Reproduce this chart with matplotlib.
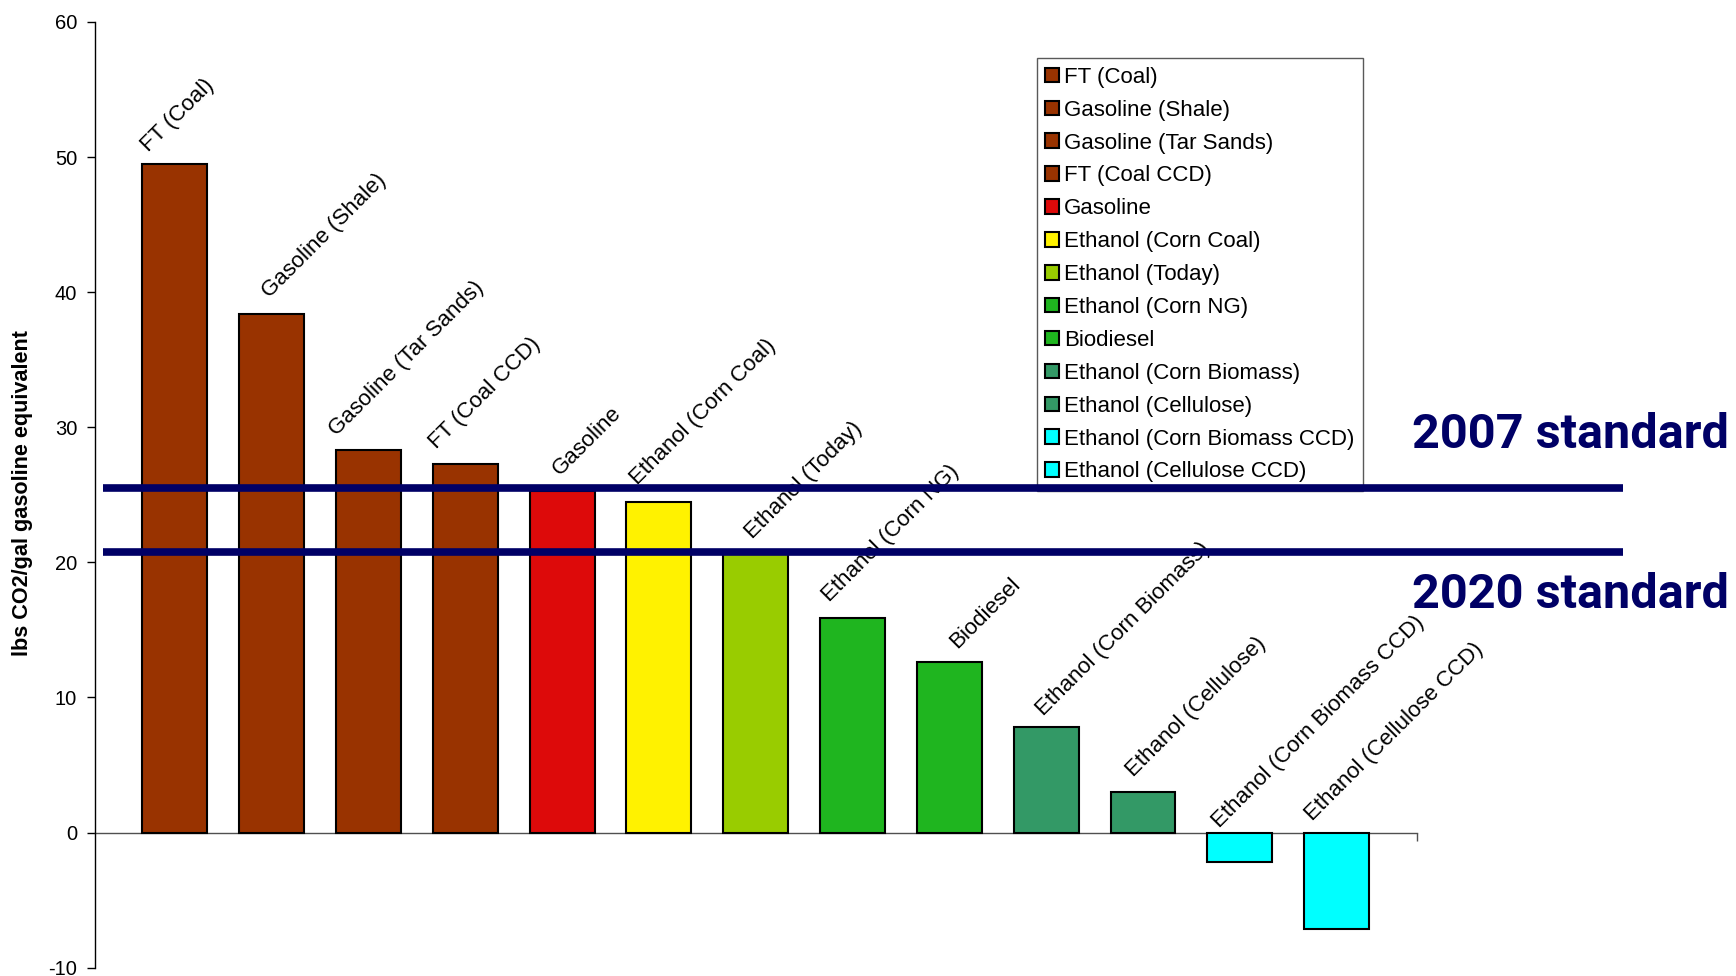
import matplotlib
matplotlib.use("Agg")
import matplotlib.pyplot as plt
from matplotlib.transforms import blended_transform_factory

plt.rcParams['font.family'] = ['Liberation Sans', 'DejaVu Sans']
plt.rcParams['axes.unicode_minus'] = False

# Fuel pathways and their life-cycle emissions (lbs CO2 per gallon gasoline equivalent)
fuels = ["FT (Coal)", "Gasoline (Shale)", "Gasoline (Tar Sands)", "FT (Coal CCD)",
         "Gasoline", "Ethanol (Corn Coal)", "Ethanol (Today)", "Ethanol (Corn NG)",
         "Biodiesel", "Ethanol (Corn Biomass)", "Ethanol (Cellulose)",
         "Ethanol (Corn Biomass CCD)", "Ethanol (Cellulose CCD)"]
emissions = [49.5, 38.4, 28.3, 27.3, 25.3, 24.5, 20.7, 15.9, 12.6, 7.8, 3.0, -2.2, -7.1]

colors = ["#993300", "#993300", "#993300", "#993300", "#DD0A0A", "#FFF200",
          "#99CC00", "#1FB51F", "#1FB51F", "#339966", "#339966", "#00FFFF", "#00FFFF"]

# Per-label nudges (pixels) from the bar centre / top to the label's baseline start
label_dx = [-26, -2, -32, -29, -2, -21, -3, -23, 8, -3, -10, -20, -24]
label_dy = [11, 15, 14, 14, 15, 16, 13, 15, 13, 11, 15, 4, 11]

# Fuel standards (lbs CO2/gal gasoline equivalent)
standard_names = ["2007 standard", "2020 standard"]
standard_values = [25.5, 20.8]

y_ticks = [-10, 0, 10, 20, 30, 40, 50, 60]

W, H = 1736, 976
fig = plt.figure(figsize=(W / 100, H / 100), dpi=100)
ax = fig.add_axes([94.5 / W, 1 - 967.7 / H, (1417 - 94.5) / W, (967.7 - 21.9) / H])

x = list(range(len(fuels)))
bars = ax.bar(x, emissions, width=0.671, color=colors, edgecolor="black",
              linewidth=1.5, zorder=3)
for b, name in zip(bars, fuels):
    b.set_label(name)

ax.set_xlim(-0.83, 12.83)
ax.set_ylim(-10, 60)
ax.set_yticks(y_ticks)
ax.set_yticklabels([str(t) for t in y_ticks], fontsize=14.5)
ax.tick_params(axis="y", direction="out", length=5.5, width=1, pad=7, colors="black")

# Category axis sits on zero with a single closing tick
ax.spines["bottom"].set_position(("data", 0))
ax.spines["bottom"].set_color("#505050")
ax.spines["bottom"].set_linewidth(1)
ax.spines["bottom"].set_zorder(2)
ax.set_xticks([12.83])
ax.set_xticklabels([""])
ax.tick_params(axis="x", direction="out", length=5.5, width=1, colors="#505050")
ax.spines["top"].set_visible(False)
ax.spines["right"].set_visible(False)
ax.spines["left"].set_linewidth(1)

ax.set_ylabel("lbs CO2/gal gasoline equivalent", fontsize=15.6, fontweight="bold")
ax.yaxis.set_label_coords(-0.0465, 0.502)

for xi, v, name, dx, dy in zip(x, emissions, fuels, label_dx, label_dy):
    ax.annotate(name, xy=(xi, max(v, 0)), xytext=(dx, dy), textcoords="offset pixels",
                rotation=45, rotation_mode="anchor", ha="left", va="baseline",
                fontsize=16, zorder=4)

leg = ax.legend(handles=list(bars), loc="upper left",
                bbox_to_anchor=(1036.7 / W, 1 - 58.3 / H),
                bbox_transform=fig.transFigure, fontsize=16, frameon=True,
                fancybox=False, shadow=False, borderpad=0.38, labelspacing=0.535,
                handlelength=0.63, handleheight=0.63, handletextpad=0.22,
                borderaxespad=0)
leg.get_frame().set_edgecolor("#303030")
leg.get_frame().set_linewidth(1)
leg.set_zorder(5)

# Standard lines run across the chart and past the plot area
line_tr = blended_transform_factory(fig.transFigure, ax.transData)
for val in standard_values:
    ax.plot([103 / W, 1622.7 / W], [val, val], color="#000066", linewidth=5.5,
            transform=line_tr, clip_on=False, zorder=6, solid_capstyle="butt")

fig.text(1412 / W, 1 - 448.3 / H, standard_names[0], fontsize=35, fontweight="bold",
         family=["Roboto", "DejaVu Sans"], color="#000066", ha="left", va="baseline")
fig.text(1412 / W, 1 - 608.3 / H, standard_names[1], fontsize=35, fontweight="bold",
         family=["Roboto", "DejaVu Sans"], color="#000066", ha="left", va="baseline")

fig.savefig("out.png", dpi=100)
